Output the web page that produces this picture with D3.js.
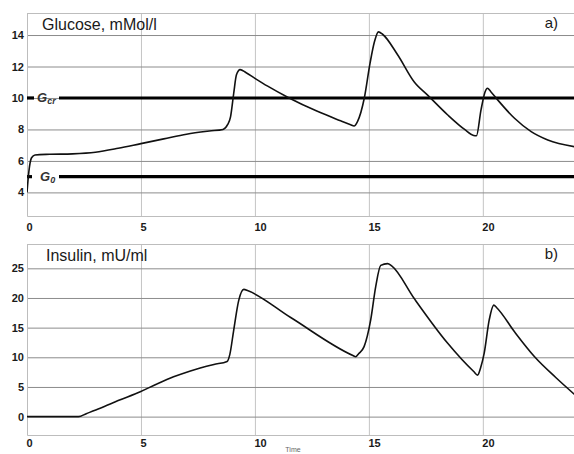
<!DOCTYPE html>
<html>
<head>
<meta charset="utf-8">
<script src="https://cdn.jsdelivr.net/npm/d3@7"></script>
<style>
  body { margin: 0; background: #fff; }
  svg { display: block; font-family: "Liberation Sans", Arial, sans-serif; }
</style>
</head>
<body>
<div id="frame"></div>
<script>
// data
let timeTicks = [0, 5, 10, 15, 20];
let glucoseTicks = [4, 6, 8, 10, 12, 14];
let insulinTicks = [0, 5, 10, 15, 20, 25];

let glucoseTime = [0, 0.08, 0.2, 0.35, 1, 2, 3, 4, 5, 6, 7, 8, 8.6, 8.8, 8.93, 9.07, 9.19, 9.35, 9.6, 10,
  10.56, 11.5, 12.74, 13.76, 14.2, 14.35, 14.5, 14.8, 15.05, 15.25, 15.42, 15.6, 16.26, 17, 17.6, 18.46,
  19.2, 19.6, 19.72, 19.92, 20.1, 20.2, 20.35, 20.65, 21.39, 22.12, 22.85, 24.05];
let glucoseValues = [4.0, 5.3, 6.2, 6.38, 6.42, 6.45, 6.55, 6.8, 7.1, 7.4, 7.7, 7.9, 8.0, 8.3, 8.8, 10.3, 11.47, 11.8, 11.62, 11.25,
  10.75, 10.0, 9.15, 8.55, 8.3, 8.22, 8.5, 10.0, 12.2, 13.6, 14.2, 14.05, 12.75, 11.0, 10.15, 8.92,
  8.0, 7.62, 7.6, 9.24, 10.4, 10.62, 10.4, 9.88, 8.71, 7.86, 7.33, 6.9];

let insulinTime = [0, 1, 2, 2.26, 2.6, 3.21, 4, 4.97, 5.7, 6.43, 7.17, 7.6, 8.2, 8.78, 8.9, 9.07, 9.29, 9.51, 9.7, 11.57,
  14.3, 14.42, 14.55, 14.79, 15.08, 15.3, 15.52, 15.82, 16, 16.99, 18.45, 19.6, 19.77, 19.9, 20.06, 20.28, 20.48, 20.6,
  21.39, 22.27, 23.2, 24.05];
let insulinValues = [0, 0, 0, 0, 0.5, 1.41, 2.7, 4.2, 5.5, 6.7, 7.7, 8.2, 8.8, 9.3, 10.5, 14.6, 19.6, 21.45, 21.2, 16.7,
  10.3, 10.1, 10.6, 11.8, 16.3, 21.9, 25.5, 25.8, 25.4, 19.9, 12.4, 7.6, 7.0, 8.2, 10.7, 16.3, 18.8, 18.4,
  14.3, 10.1, 6.6, 3.65];

// threshold lines on glucose panel
let thresholdSubs = ['cr', '0'];
let thresholdValues = [10, 5];

let width = 574, height = 454;
let left = 27, right = 574;

let svg = d3.select('#frame')
  .append('svg')
  .attr('width', width)
  .attr('height', height);

let x = d3.scaleLinear().domain([0, 24]).range([left, right]);

// one panel = frame, grid, ticks, curve, titles
function panel(opts) {
  let y = d3.scaleLinear().domain(opts.yDomain).range([opts.bottom, opts.top]);
  let g = svg.append('g');

  g.append('clipPath').attr('id', 'clip' + opts.id)
    .append('rect')
    .attr('x', left).attr('y', opts.top)
    .attr('width', right - left).attr('height', opts.bottom - opts.top);

  // vertical grid + x labels
  let xa = g.append('g')
    .attr('transform', 'translate(0,' + opts.bottom + ')')
    .call(d3.axisBottom(x).tickValues(timeTicks).tickSize(-(opts.bottom - opts.top)).tickPadding(0));
  xa.select('.domain').remove();
  xa.selectAll('line').attr('stroke', '#c4c4c4');
  xa.selectAll('text')
    .attr('text-anchor', 'start')
    .attr('x', -1)
    .attr('y', opts.xLabelY)
    .attr('dy', '0.71em')
    .attr('fill', '#1a1a1a')
    .style('font-size', '11px')
    .style('font-weight', 'bold');

  // horizontal grid + y labels
  let ya = g.append('g')
    .attr('transform', 'translate(' + left + ',0)')
    .call(d3.axisLeft(y).tickValues(opts.yTicks).tickSize(-(right - left)).tickPadding(3));
  ya.select('.domain').remove();
  ya.selectAll('line').attr('stroke', '#8c8c8c');
  ya.selectAll('text')
    .attr('fill', '#1a1a1a')
    .style('font-size', '11px')
    .style('font-weight', 'bold');

  // frame: left, top, bottom
  g.append('path')
    .attr('d', 'M' + right + ',' + (opts.top + 0.5) + 'H' + (left + 0.5) + 'V' + (opts.bottom + 0.5) + 'H' + right)
    .attr('fill', 'none')
    .attr('stroke', '#bdbdbd');

  // extra lines (thresholds)
  if (opts.extra) opts.extra(g, y);

  // the curve
  let line = d3.line()
    .x(d => x(d[0]))
    .y(d => y(d[1]))
    .curve(d3.curveMonotoneX);
  g.append('path')
    .datum(opts.t.map((t, i) => [t, opts.v[i]]))
    .attr('clip-path', 'url(#clip' + opts.id + ')')
    .attr('fill', 'none')
    .attr('stroke', '#111')
    .attr('stroke-width', 1.6)
    .attr('d', line);

  g.append('text')
    .attr('x', opts.titleX).attr('y', opts.top + 17)
    .attr('fill', '#1a1a1a')
    .style('font-size', '16px')
    .text(opts.title);
  g.append('text')
    .attr('x', 558).attr('y', opts.top + 15)
    .attr('text-anchor', 'end')
    .attr('fill', '#1a1a1a')
    .style('font-size', '15px')
    .text(opts.letter);
}

panel({
  id: 'a', top: 13, bottom: 216, yDomain: [2.5, 15.4], yTicks: glucoseTicks,
  t: glucoseTime, v: glucoseValues, title: 'Glucose, mMol/l', titleX: 42, letter: 'a)', xLabelY: 7.5,
  extra: (g, y) => {
    thresholdValues.forEach((val, i) => {
      let yy = y(val);
      g.append('line')
        .attr('x1', left).attr('x2', i === 0 ? 34 : 32)
        .attr('y1', yy).attr('y2', yy)
        .attr('stroke', '#000').attr('stroke-width', 3.2);
      g.append('line')
        .attr('x1', 59).attr('x2', right)
        .attr('y1', yy).attr('y2', yy)
        .attr('stroke', '#000').attr('stroke-width', 3.2);
      let lbl = g.append('text')
        .attr('x', i === 0 ? 37 : 40).attr('y', yy + 4.5)
        .attr('fill', '#333')
        .style('font-size', '13px')
        .style('font-weight', 'bold')
        .style('font-style', 'italic');
      lbl.append('tspan').text('G');
      lbl.append('tspan').attr('dy', 2).style('font-size', '9px').text(thresholdSubs[i]);
    });
  }
});

panel({
  id: 'b', top: 244, bottom: 435, yDomain: [-3.1, 29.1], yTicks: insulinTicks,
  t: insulinTime, v: insulinValues, title: 'Insulin, mU/ml', titleX: 46, letter: 'b)', xLabelY: 4.5
});

// axis caption at the very bottom edge
svg.append('text')
  .attr('x', 293).attr('y', 452)
  .attr('text-anchor', 'middle')
  .attr('fill', '#666')
  .style('font-size', '7px')
  .text('Time');
</script>
</body>
</html>
